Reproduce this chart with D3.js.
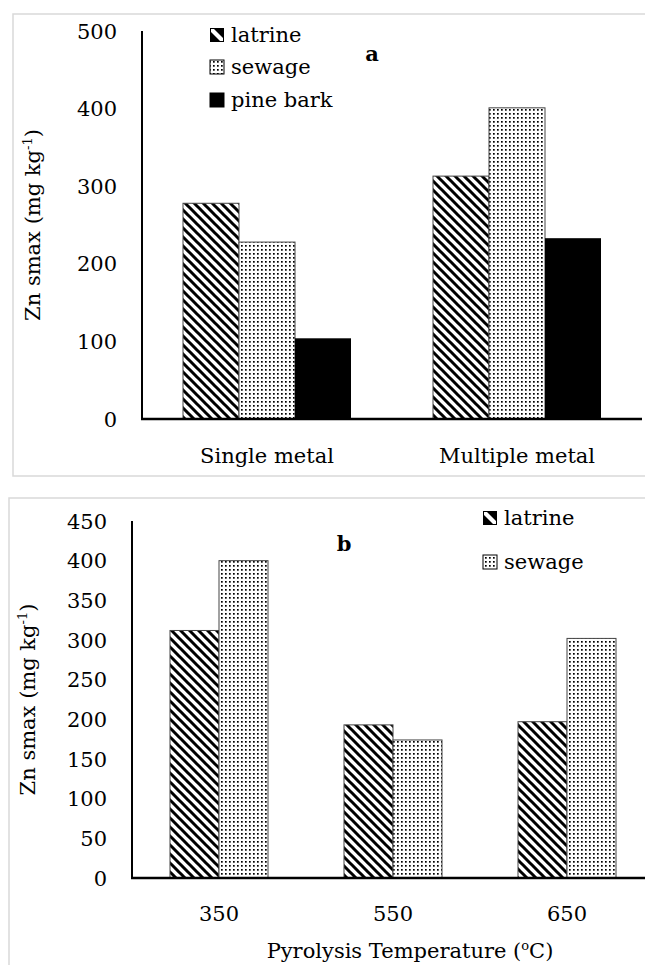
<!doctype html>
<html>
<head>
<meta charset="utf-8">
<script src="https://d3js.org/d3.v7.min.js"></script>
<style>
  body { margin: 0; background: #fff; }
  text { font-family: "DejaVu Serif", "Liberation Serif", serif; fill: #000; }
</style>
</head>
<body>
<svg width="645" height="965"></svg>
<script>
// panel a data
var catsA = ["Single metal", "Multiple metal"];
var seriesA = ["latrine", "sewage", "pine bark"];
var latrineA = [278, 313];
var sewageA = [228, 401];
var pineBarkA = [104, 233];
var ticksA = [0, 100, 200, 300, 400, 500];

// panel b data
var catsB = ["350", "550", "650"];
var seriesB = ["latrine", "sewage"];
var latrineB = [312, 193, 197];
var sewageB = [400, 174, 302];
var ticksB = [0, 50, 100, 150, 200, 250, 300, 350, 400, 450];

var FS = "21px";
var svg = d3.select("svg");
var defs = svg.append("defs");

// wide downward diagonal
var pd = defs.append("pattern").attr("id", "diag")
    .attr("patternUnits", "userSpaceOnUse").attr("width", 9).attr("height", 9);
pd.append("rect").attr("width", 9).attr("height", 9).attr("fill", "#fff");
pd.append("path").attr("d", "M-3,-3L12,12M-3,6L3,12M6,-3L12,3")
    .attr("stroke", "#000").attr("stroke-width", 3);

// small dots
var pdot = defs.append("pattern").attr("id", "dots")
    .attr("patternUnits", "userSpaceOnUse").attr("width", 4).attr("height", 4);
pdot.append("rect").attr("width", 4).attr("height", 4).attr("fill", "#fff");
pdot.append("rect").attr("x", 1).attr("y", 1).attr("width", 1.7).attr("height", 1.7).attr("fill", "#000");

var fills = {"latrine": "url(#diag)", "sewage": "url(#dots)", "pine bark": "#000"};

function swatch(g, s, x, y) {
  var sz = 14;
  if (s == "latrine") {
    // legend key: one broad stripe, as Excel draws it
    g.append("rect").attr("x", x).attr("y", y).attr("width", sz).attr("height", sz).attr("fill", "#000");
    g.append("path").attr("d", "M" + x + "," + (y + 1) + "L" + (x + 4) + "," + (y + 1) + "L" + (x + sz - 1) + "," + (y + sz - 4) +
        "L" + (x + sz - 1) + "," + (y + sz - 1) + "L" + (x + sz - 4) + "," + (y + sz - 1) + "L" + (x + 1) + "," + (y + 4) + "Z")
        .attr("fill", "#fff");
    g.append("rect").attr("x", x + 0.5).attr("y", y + 0.5).attr("width", sz - 1).attr("height", sz - 1)
        .attr("fill", "none").attr("stroke", "#000").attr("stroke-width", 1);
  } else {
    g.append("rect").attr("x", x).attr("y", y).attr("width", sz).attr("height", sz)
        .attr("fill", fills[s]).attr("stroke", "#000").attr("stroke-width", 1);
  }
}

function panel(o) {
  var g = svg.append("g");
  g.append("rect").attr("x", o.box[0]).attr("y", o.box[1])
      .attr("width", o.box[2]).attr("height", o.box[3])
      .attr("fill", "none").attr("stroke", "#d9d9d9").attr("stroke-width", 1.5);

  var y = d3.scaleLinear().domain(o.yDomain).range([o.y0, o.y1]);
  var x = d3.scaleBand().domain(o.cats).range([o.x0, o.x1]);
  var x1 = d3.scaleBand().domain(o.series).range([0, o.groupW]);
  var off = (x.bandwidth() - o.groupW) / 2;

  // y tick labels
  g.selectAll(".tk").data(o.ticks).enter().append("text")
      .attr("x", o.x0 - 25).attr("y", function(d) { return y(d); })
      .attr("dy", "0.36em").attr("text-anchor", "end")
      .style("font-size", FS).text(function(d) { return d; });

  // bars
  o.series.forEach(function(s, i) {
    g.selectAll(".b" + i).data(o.values[i]).enter().append("rect")
        .attr("x", function(d, j) { return x(o.cats[j]) + off + x1(s); })
        .attr("y", function(d) { return y(d); })
        .attr("width", x1.bandwidth())
        .attr("height", function(d) { return y(0) - y(d); })
        .attr("fill", fills[s])
        .attr("stroke", s == "pine bark" ? "none" : "#444").attr("stroke-width", 1);
  });

  // axes lines
  g.append("line").attr("x1", o.x0).attr("x2", o.x0).attr("y1", o.y1).attr("y2", o.y0)
      .attr("stroke", "#000").attr("stroke-width", 2);
  g.append("line").attr("x1", o.x0 - 1).attr("x2", o.axisEnd).attr("y1", o.y0).attr("y2", o.y0)
      .attr("stroke", "#000").attr("stroke-width", 2.5);

  // category labels
  g.selectAll(".cl").data(o.cats).enter().append("text")
      .attr("x", function(d) { return x(d) + x.bandwidth() / 2; })
      .attr("y", o.catY).attr("text-anchor", "middle")
      .style("font-size", FS).text(function(d) { return d; });

  // y title
  var yt = g.append("text").attr("transform", "translate(" + o.ytX + "," + (o.y0 + o.y1) / 2 + ") rotate(-90)")
      .attr("text-anchor", "middle").style("font-size", FS);
  yt.append("tspan").text("Zn smax (mg kg");
  yt.append("tspan").attr("dy", -8).style("font-size", "13px").text("-1");
  yt.append("tspan").attr("dy", 8).text(")");

  // legend
  o.series.forEach(function(s, i) {
    var ly = o.legY[i];
    swatch(g, s, o.legX, ly - 7);
    g.append("text").attr("x", o.legX + 21).attr("y", ly).attr("dy", "0.33em")
        .style("font-size", FS).text(s);
  });

  // panel letter
  g.append("text").attr("x", o.letter[0]).attr("y", o.letter[1]).attr("text-anchor", "middle")
      .style("font-size", FS).style("font-weight", "bold").text(o.letter[2]);
  return g;
}

panel({
  box: [13, 14, 650, 462],
  cats: catsA, series: seriesA, values: [latrineA, sewageA, pineBarkA],
  yDomain: [0, 500], ticks: ticksA,
  y0: 419, y1: 31, x0: 142, x1: 642, axisEnd: 642, groupW: 168,
  catY: 463, ytX: 40,
  legX: 210, legY: [35, 67, 100],
  letter: [372, 61, "a"]
});

var gb = panel({
  box: [9, 498, 660, 490],
  cats: catsB, series: seriesB, values: [latrineB, sewageB],
  yDomain: [0, 450], ticks: ticksB,
  y0: 878, y1: 521, x0: 132, x1: 654, axisEnd: 660, groupW: 98,
  catY: 921, ytX: 35,
  legX: 483, legY: [518, 562],
  letter: [344, 551, "b"]
});

var xt = gb.append("text").attr("x", 410).attr("y", 958).attr("text-anchor", "middle")
    .style("font-size", FS);
xt.append("tspan").text("Pyrolysis Temperature (");
xt.append("tspan").attr("dy", -8).style("font-size", "13px").text("o");
xt.append("tspan").attr("dy", 8).text("C)");
</script>
</body>
</html>
